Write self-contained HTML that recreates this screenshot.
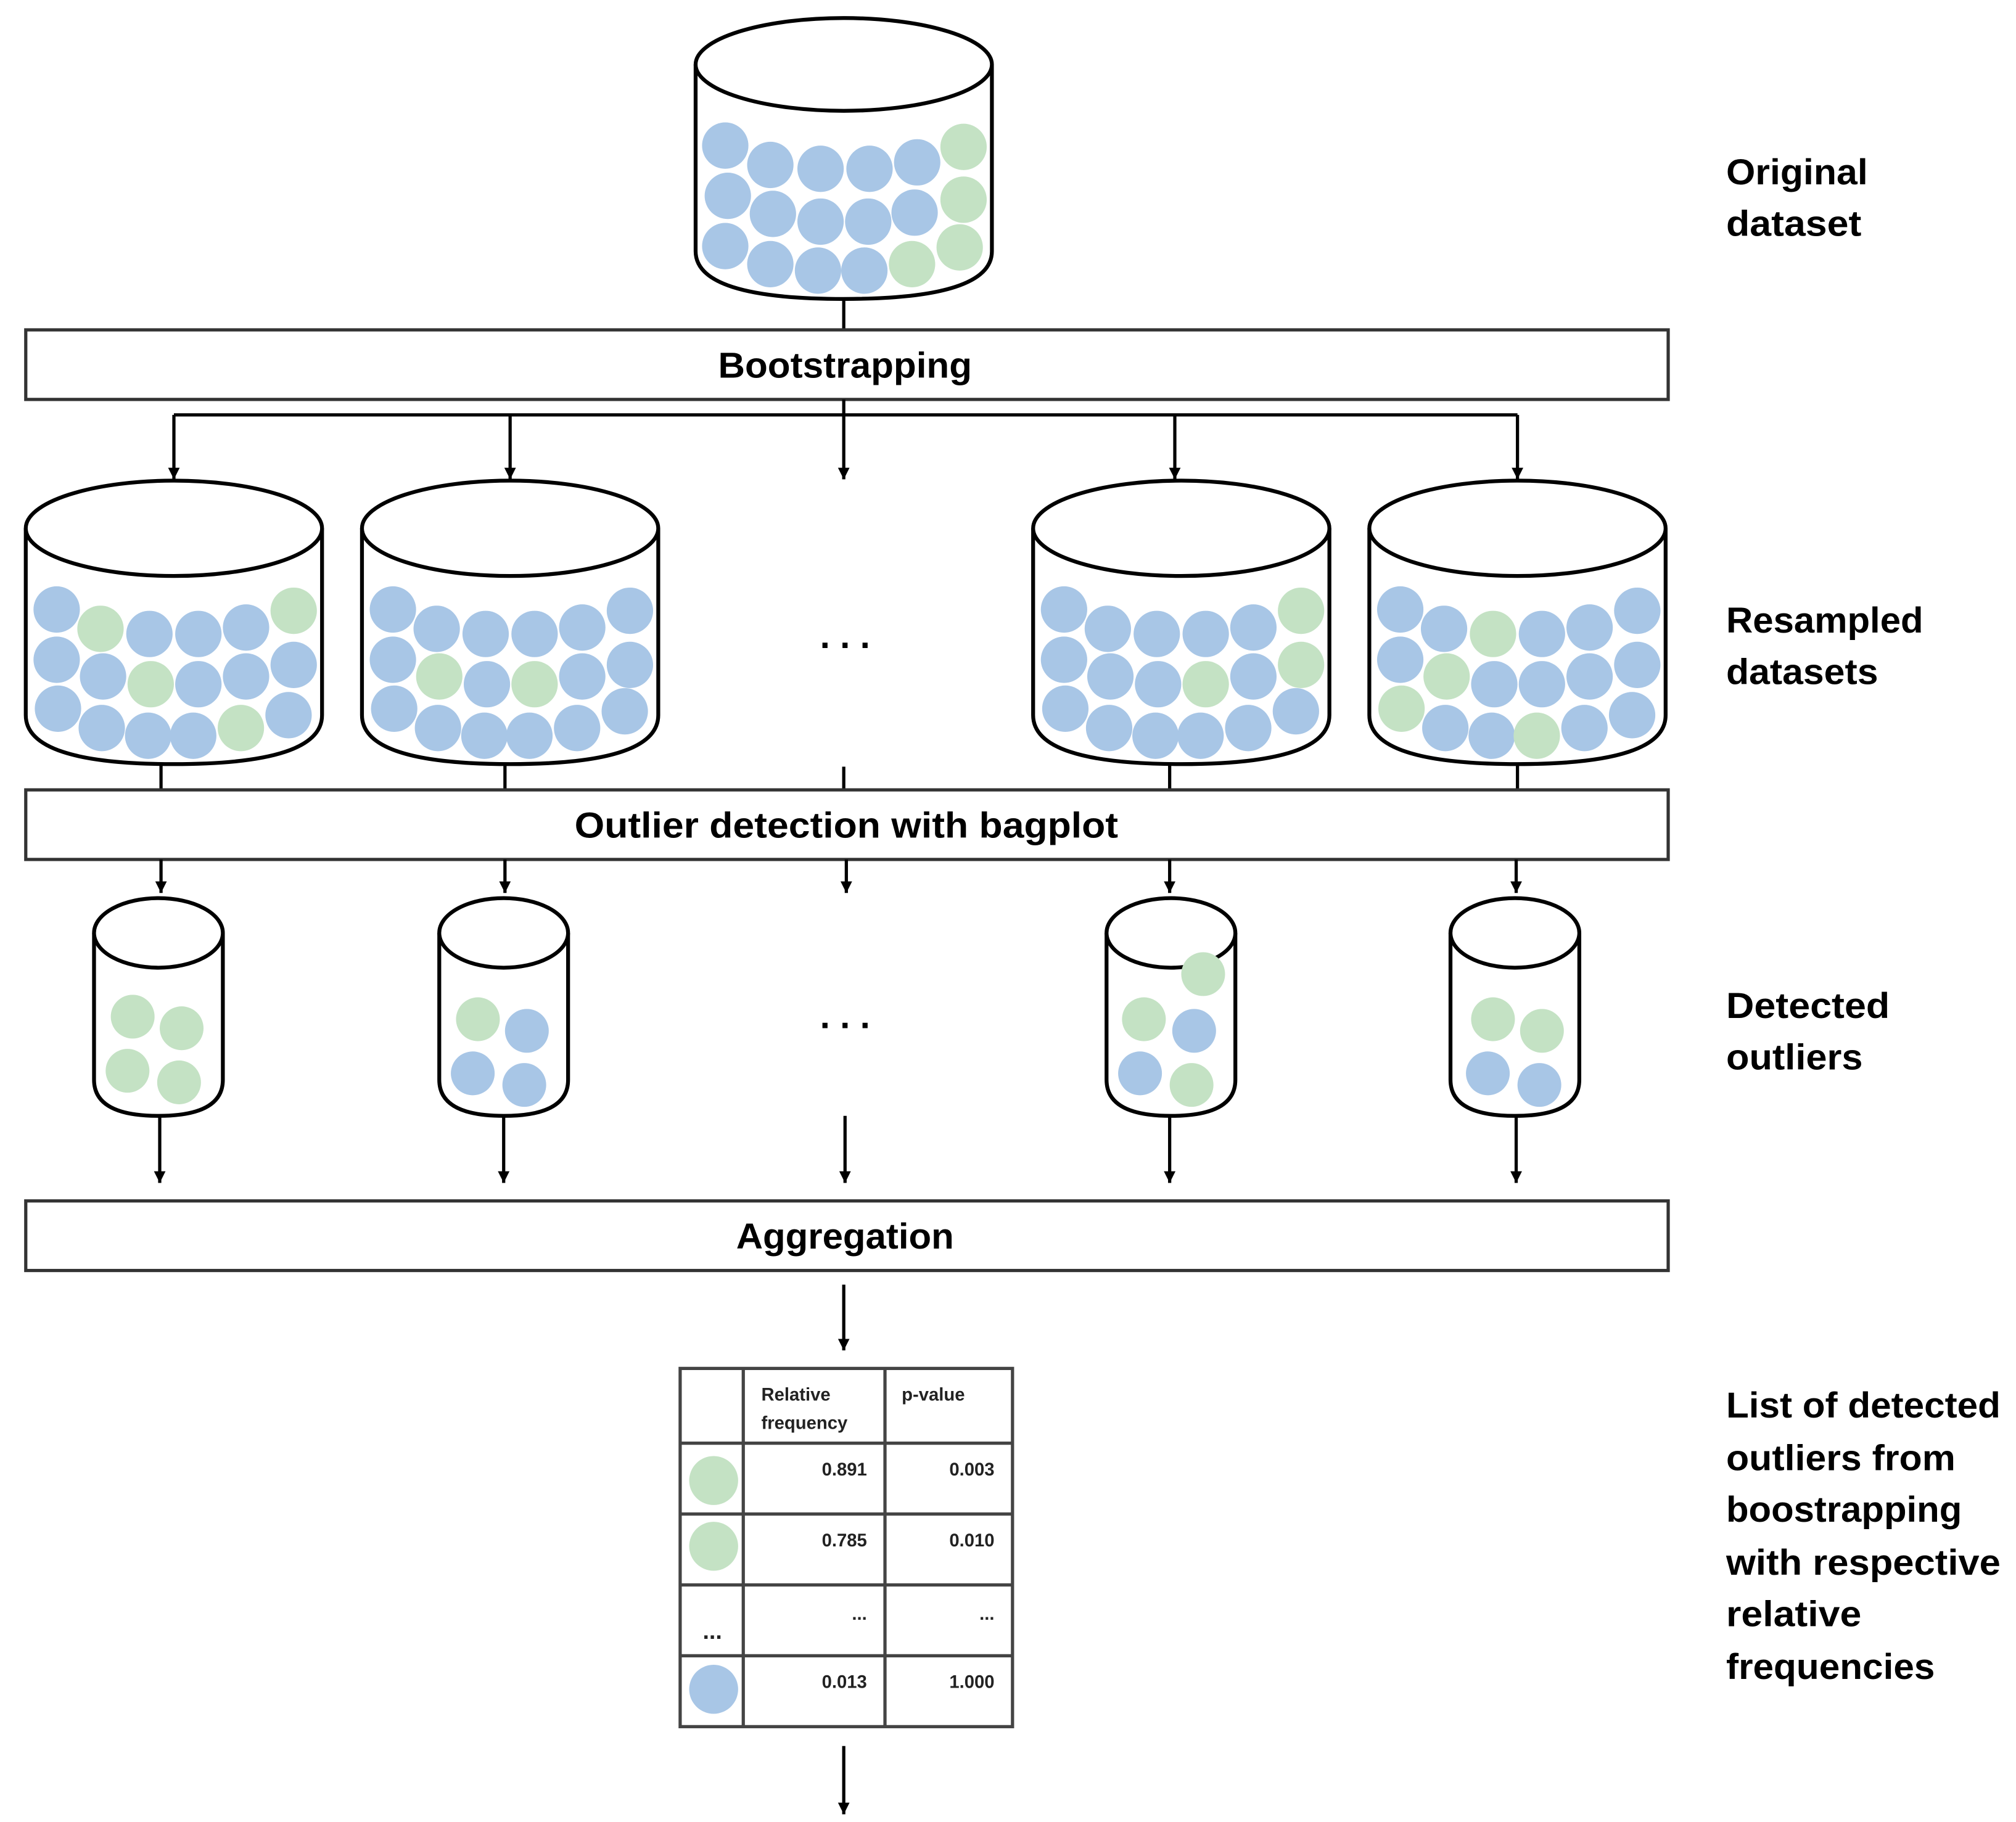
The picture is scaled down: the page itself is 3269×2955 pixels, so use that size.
<!DOCTYPE html>
<html><head><meta charset="utf-8"><style>html,body{margin:0;padding:0;background:#fff}svg{display:block}</style></head>
<body>
<svg width="3269" height="2955" viewBox="0 0 1565 1414" preserveAspectRatio="none" xmlns="http://www.w3.org/2000/svg" font-family="'Liberation Sans', sans-serif">
<defs>
<marker id="ah" markerWidth="8" markerHeight="10" refX="4" refY="9" orient="auto" markerUnits="userSpaceOnUse">
<path d="M0,0 L8,0 L4,10 Z" fill="#000" transform="rotate(-90 4 5)"/>
</marker>
<marker id="a" viewBox="0 0 10 10" markerWidth="9" markerHeight="11" refX="10" refY="5" orient="auto" markerUnits="userSpaceOnUse"><path d="M0,0 L10,5 L0,10 Z" fill="#000"/></marker>
</defs>
<g stroke="#000" stroke-width="2.5" fill="none">
<!-- top cylinder -->
<path d="M540,50 L540,195 Q540,232 655,232 Q770,232 770,195 L770,50" fill="#fff" stroke-width="3"/>
<ellipse cx="655" cy="50" rx="115" ry="36" fill="#fff" stroke-width="3"/>
<line x1="655" y1="232" x2="655" y2="256"/>
<rect x="20" y="256" width="1275" height="54" fill="#fff" stroke="#333"/>
<line x1="655" y1="310" x2="655" y2="322"/>
<line x1="135" y1="322" x2="1178" y2="322"/>
<line x1="135" y1="322" x2="135" y2="372" marker-end="url(#a)"/>
<line x1="396" y1="322" x2="396" y2="372" marker-end="url(#a)"/>
<line x1="655" y1="322" x2="655" y2="372" marker-end="url(#a)"/>
<line x1="912" y1="322" x2="912" y2="372" marker-end="url(#a)"/>
<line x1="1178" y1="322" x2="1178" y2="372" marker-end="url(#a)"/>
</g>
<g fill="#a8c6e6">
<circle cx="563" cy="113" r="18"/><circle cx="598" cy="128" r="18"/><circle cx="637" cy="131" r="18"/><circle cx="675" cy="131" r="18"/><circle cx="712" cy="126" r="18"/>
<circle cx="565" cy="152" r="18"/><circle cx="600" cy="166" r="18"/><circle cx="637" cy="172" r="18"/><circle cx="674" cy="172" r="18"/><circle cx="710" cy="165" r="18"/>
<circle cx="563" cy="191" r="18"/><circle cx="598" cy="205" r="18"/><circle cx="635" cy="210" r="18"/><circle cx="671" cy="210" r="18"/>
</g>
<g fill="#c4e2c4">
<circle cx="748" cy="114" r="18"/><circle cx="748" cy="155" r="18"/><circle cx="708" cy="205" r="18"/><circle cx="745" cy="192" r="18"/>
</g>

<!-- resampled cylinders -->
<g stroke="#000" stroke-width="3" fill="#fff">
<path d="M20,410 L20,555 Q20,593 135,593 Q250,593 250,555 L250,410"/><ellipse cx="135" cy="410" rx="115" ry="37"/>
<path d="M281,410 L281,555 Q281,593 396,593 Q511,593 511,555 L511,410"/><ellipse cx="396" cy="410" rx="115" ry="37"/>
<path d="M802,410 L802,555 Q802,593 917,593 Q1032,593 1032,555 L1032,410"/><ellipse cx="917" cy="410" rx="115" ry="37"/>
<path d="M1063,410 L1063,555 Q1063,593 1178,593 Q1293,593 1293,555 L1293,410"/><ellipse cx="1178" cy="410" rx="115" ry="37"/>
</g>
<g id="balls"></g>
<g>
<!-- cyl1 left 20 -->
<g transform="translate(20,0)">
<circle cx="24" cy="473" r="18" fill="#a8c6e6"/><circle cx="58" cy="488" r="18" fill="#c4e2c4"/><circle cx="96" cy="492" r="18" fill="#a8c6e6"/><circle cx="134" cy="492" r="18" fill="#a8c6e6"/><circle cx="171" cy="487" r="18" fill="#a8c6e6"/><circle cx="208" cy="474" r="18" fill="#c4e2c4"/>
<circle cx="24" cy="512" r="18" fill="#a8c6e6"/><circle cx="60" cy="525" r="18" fill="#a8c6e6"/><circle cx="97" cy="531" r="18" fill="#c4e2c4"/><circle cx="134" cy="531" r="18" fill="#a8c6e6"/><circle cx="171" cy="525" r="18" fill="#a8c6e6"/><circle cx="208" cy="516" r="18" fill="#a8c6e6"/>
<circle cx="25" cy="550" r="18" fill="#a8c6e6"/><circle cx="59" cy="565" r="18" fill="#a8c6e6"/><circle cx="95" cy="571" r="18" fill="#a8c6e6"/><circle cx="130" cy="571" r="18" fill="#a8c6e6"/><circle cx="167" cy="565" r="18" fill="#c4e2c4"/><circle cx="204" cy="555" r="18" fill="#a8c6e6"/>
</g>
<g transform="translate(281,0)">
<circle cx="24" cy="473" r="18" fill="#a8c6e6"/><circle cx="58" cy="488" r="18" fill="#a8c6e6"/><circle cx="96" cy="492" r="18" fill="#a8c6e6"/><circle cx="134" cy="492" r="18" fill="#a8c6e6"/><circle cx="171" cy="487" r="18" fill="#a8c6e6"/><circle cx="208" cy="474" r="18" fill="#a8c6e6"/>
<circle cx="24" cy="512" r="18" fill="#a8c6e6"/><circle cx="60" cy="525" r="18" fill="#c4e2c4"/><circle cx="97" cy="531" r="18" fill="#a8c6e6"/><circle cx="134" cy="531" r="18" fill="#c4e2c4"/><circle cx="171" cy="525" r="18" fill="#a8c6e6"/><circle cx="208" cy="516" r="18" fill="#a8c6e6"/>
<circle cx="25" cy="550" r="18" fill="#a8c6e6"/><circle cx="59" cy="565" r="18" fill="#a8c6e6"/><circle cx="95" cy="571" r="18" fill="#a8c6e6"/><circle cx="130" cy="571" r="18" fill="#a8c6e6"/><circle cx="167" cy="565" r="18" fill="#a8c6e6"/><circle cx="204" cy="552" r="18" fill="#a8c6e6"/>
</g>
<g transform="translate(802,0)">
<circle cx="24" cy="473" r="18" fill="#a8c6e6"/><circle cx="58" cy="488" r="18" fill="#a8c6e6"/><circle cx="96" cy="492" r="18" fill="#a8c6e6"/><circle cx="134" cy="492" r="18" fill="#a8c6e6"/><circle cx="171" cy="487" r="18" fill="#a8c6e6"/><circle cx="208" cy="474" r="18" fill="#c4e2c4"/>
<circle cx="24" cy="512" r="18" fill="#a8c6e6"/><circle cx="60" cy="525" r="18" fill="#a8c6e6"/><circle cx="97" cy="531" r="18" fill="#a8c6e6"/><circle cx="134" cy="531" r="18" fill="#c4e2c4"/><circle cx="171" cy="525" r="18" fill="#a8c6e6"/><circle cx="208" cy="516" r="18" fill="#c4e2c4"/>
<circle cx="25" cy="550" r="18" fill="#a8c6e6"/><circle cx="59" cy="565" r="18" fill="#a8c6e6"/><circle cx="95" cy="571" r="18" fill="#a8c6e6"/><circle cx="130" cy="571" r="18" fill="#a8c6e6"/><circle cx="167" cy="565" r="18" fill="#a8c6e6"/><circle cx="204" cy="552" r="18" fill="#a8c6e6"/>
</g>
<g transform="translate(1063,0)">
<circle cx="24" cy="473" r="18" fill="#a8c6e6"/><circle cx="58" cy="488" r="18" fill="#a8c6e6"/><circle cx="96" cy="492" r="18" fill="#c4e2c4"/><circle cx="134" cy="492" r="18" fill="#a8c6e6"/><circle cx="171" cy="487" r="18" fill="#a8c6e6"/><circle cx="208" cy="474" r="18" fill="#a8c6e6"/>
<circle cx="24" cy="512" r="18" fill="#a8c6e6"/><circle cx="60" cy="525" r="18" fill="#c4e2c4"/><circle cx="97" cy="531" r="18" fill="#a8c6e6"/><circle cx="134" cy="531" r="18" fill="#a8c6e6"/><circle cx="171" cy="525" r="18" fill="#a8c6e6"/><circle cx="208" cy="516" r="18" fill="#a8c6e6"/>
<circle cx="25" cy="550" r="18" fill="#c4e2c4"/><circle cx="59" cy="565" r="18" fill="#a8c6e6"/><circle cx="95" cy="571" r="18" fill="#a8c6e6"/><circle cx="130" cy="571" r="18" fill="#c4e2c4"/><circle cx="167" cy="565" r="18" fill="#a8c6e6"/><circle cx="204" cy="555" r="18" fill="#a8c6e6"/>
</g>
</g>
<text x="656" y="503" font-size="28" font-weight="bold" text-anchor="middle">. . .</text>

<g stroke="#000" stroke-width="2.5" fill="none">
<line x1="125" y1="593" x2="125" y2="613"/><line x1="392" y1="593" x2="392" y2="613"/><line x1="655" y1="595" x2="655" y2="613"/><line x1="908" y1="593" x2="908" y2="613"/><line x1="1178" y1="593" x2="1178" y2="613"/>
<rect x="20" y="613" width="1275" height="54" fill="#fff" stroke="#333"/>
<line x1="125" y1="667" x2="125" y2="693" marker-end="url(#a)"/><line x1="392" y1="667" x2="392" y2="693" marker-end="url(#a)"/><line x1="657" y1="667" x2="657" y2="693" marker-end="url(#a)"/><line x1="908" y1="667" x2="908" y2="693" marker-end="url(#a)"/><line x1="1177" y1="667" x2="1177" y2="693" marker-end="url(#a)"/>
</g>
<!-- small cylinders -->
<g stroke="#000" stroke-width="3" fill="#fff">
<path d="M73,724 L73,838 Q73,866 123,866 Q173,866 173,838 L173,724"/><ellipse cx="123" cy="724" rx="50" ry="27"/>
<path d="M341,724 L341,838 Q341,866 391,866 Q441,866 441,838 L441,724"/><ellipse cx="391" cy="724" rx="50" ry="27"/>
<path d="M859,724 L859,838 Q859,866 909,866 Q959,866 959,838 L959,724"/><ellipse cx="909" cy="724" rx="50" ry="27"/>
<path d="M1126,724 L1126,838 Q1126,866 1176,866 Q1226,866 1226,838 L1226,724"/><ellipse cx="1176" cy="724" rx="50" ry="27"/>
</g>
<g>
<circle cx="103" cy="789" r="17" fill="#c4e2c4"/><circle cx="141" cy="798" r="17" fill="#c4e2c4"/><circle cx="99" cy="831" r="17" fill="#c4e2c4"/><circle cx="139" cy="840" r="17" fill="#c4e2c4"/>
<circle cx="371" cy="791" r="17" fill="#c4e2c4"/><circle cx="409" cy="800" r="17" fill="#a8c6e6"/><circle cx="367" cy="833" r="17" fill="#a8c6e6"/><circle cx="407" cy="842" r="17" fill="#a8c6e6"/>
<circle cx="934" cy="756" r="17" fill="#c4e2c4"/><circle cx="888" cy="791" r="17" fill="#c4e2c4"/><circle cx="927" cy="800" r="17" fill="#a8c6e6"/><circle cx="885" cy="833" r="17" fill="#a8c6e6"/><circle cx="925" cy="842" r="17" fill="#c4e2c4"/>
<circle cx="1159" cy="791" r="17" fill="#c4e2c4"/><circle cx="1197" cy="800" r="17" fill="#c4e2c4"/><circle cx="1155" cy="833" r="17" fill="#a8c6e6"/><circle cx="1195" cy="842" r="17" fill="#a8c6e6"/>
</g>
<text x="656" y="798" font-size="28" font-weight="bold" text-anchor="middle">. . .</text>
<g stroke="#000" stroke-width="2.5" fill="none">
<line x1="124" y1="866" x2="124" y2="918" marker-end="url(#a)"/><line x1="391" y1="866" x2="391" y2="918" marker-end="url(#a)"/><line x1="656" y1="866" x2="656" y2="918" marker-end="url(#a)"/><line x1="908" y1="866" x2="908" y2="918" marker-end="url(#a)"/><line x1="1177" y1="866" x2="1177" y2="918" marker-end="url(#a)"/>
<rect x="20" y="932" width="1275" height="54" fill="#fff" stroke="#333"/>
<line x1="655" y1="997" x2="655" y2="1048" marker-end="url(#a)"/>
<line x1="655" y1="1355" x2="655" y2="1408" marker-end="url(#a)"/>
</g>
<!-- table -->
<g stroke="#444" stroke-width="2.5" fill="none">
<rect x="528" y="1062" width="258" height="278"/>
<line x1="577" y1="1062" x2="577" y2="1340"/><line x1="687" y1="1062" x2="687" y2="1340"/>
<line x1="528" y1="1120" x2="786" y2="1120"/><line x1="528" y1="1175" x2="786" y2="1175"/><line x1="528" y1="1230" x2="786" y2="1230"/><line x1="528" y1="1285" x2="786" y2="1285"/>
</g>
<circle cx="554" cy="1149" r="19" fill="#c4e2c4"/><circle cx="554" cy="1200" r="19" fill="#c4e2c4"/><circle cx="554" cy="1311" r="19" fill="#a8c6e6"/>
<g font-size="14" font-weight="bold" fill="#222">
<text x="591" y="1087">Relative</text><text x="591" y="1109">frequency</text><text x="700" y="1087">p-value</text>
<text x="673" y="1145" text-anchor="end">0.891</text><text x="772" y="1145" text-anchor="end">0.003</text>
<text x="673" y="1200" text-anchor="end">0.785</text><text x="772" y="1200" text-anchor="end">0.010</text>
<text x="673" y="1257" text-anchor="end">...</text><text x="772" y="1257" text-anchor="end">...</text>
<text x="553" y="1272" text-anchor="middle" font-size="18">...</text>
<text x="673" y="1310" text-anchor="end">0.013</text><text x="772" y="1310" text-anchor="end">1.000</text>
</g>
<g font-weight="bold" font-size="28" fill="#000">
<text x="656" y="293" text-anchor="middle" textLength="197" lengthAdjust="spacingAndGlyphs">Bootstrapping</text>
<text x="657" y="650" text-anchor="middle" textLength="422" lengthAdjust="spacingAndGlyphs">Outlier detection with bagplot</text>
<text x="656" y="969" text-anchor="middle" textLength="169" lengthAdjust="spacingAndGlyphs">Aggregation</text>
<text x="1340" y="143" textLength="110" lengthAdjust="spacingAndGlyphs">Original</text>
<text x="1340" y="183" textLength="105" lengthAdjust="spacingAndGlyphs">dataset</text>
<text x="1340" y="491" textLength="153" lengthAdjust="spacingAndGlyphs">Resampled</text>
<text x="1340" y="531" textLength="118" lengthAdjust="spacingAndGlyphs">datasets</text>
<text x="1340" y="790" textLength="127" lengthAdjust="spacingAndGlyphs">Detected</text>
<text x="1340" y="830" textLength="106" lengthAdjust="spacingAndGlyphs">outliers</text>
<text x="1340" y="1100" textLength="213" lengthAdjust="spacingAndGlyphs">List of detected</text>
<text x="1340" y="1141" textLength="178" lengthAdjust="spacingAndGlyphs">outliers from</text>
<text x="1340" y="1181" textLength="183" lengthAdjust="spacingAndGlyphs">boostrapping</text>
<text x="1340" y="1222" textLength="213" lengthAdjust="spacingAndGlyphs">with respective</text>
<text x="1340" y="1262" textLength="105" lengthAdjust="spacingAndGlyphs">relative</text>
<text x="1340" y="1303" textLength="162" lengthAdjust="spacingAndGlyphs">frequencies</text>
</g>
</svg>
</body></html>
